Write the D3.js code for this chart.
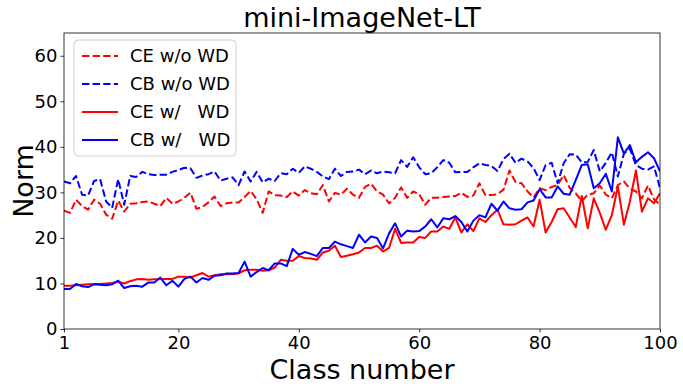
<!DOCTYPE html>
<html>
<head>
<meta charset="utf-8">
<script src="https://cdn.jsdelivr.net/npm/d3@7"></script>
<style>
  body { margin: 0; background: #fff; }
  svg { font-family: "DejaVu Sans", sans-serif; }
</style>
</head>
<body>
<svg id="chart" width="683" height="389"></svg>
<script>
// Norm per class (class 1..100)
const ceNoWd = [
  26.0, 25.5, 28.4, 27.0, 26.2, 28.4, 27.5, 25.1, 24.2, 28.2,
  25.8, 27.5, 27.6, 27.9, 28.0, 27.5, 27.0, 28.8, 27.5, 28.0,
  28.8, 29.9, 26.4, 26.8, 27.8, 29.1, 27.0, 27.6, 27.8, 27.8,
  29.0, 30.3, 28.5, 25.5, 30.2, 29.4, 29.3, 29.0, 30.2, 29.3,
  30.5, 29.8, 29.6, 31.6, 28.0, 29.9, 29.5, 30.8, 29.5, 28.8,
  31.2, 31.9, 30.2, 29.5, 27.6, 28.8, 31.1, 28.8, 30.2, 29.6,
  27.3, 28.8, 28.8, 29.0, 29.1, 29.2, 29.9, 29.0, 29.3, 32.0,
  29.4, 29.4, 29.6, 30.6, 34.8, 32.3, 32.0, 30.2, 28.9, 30.9,
  30.5, 31.2, 31.6, 33.8, 31.0, 29.8, 28.1, 29.5, 29.8, 31.5,
  29.5, 28.7, 31.6, 32.4, 30.8, 30.2, 28.7, 31.5, 28.5, 27.3
];
const cbNoWd = [
  32.4, 32.0, 33.6, 29.5, 29.3, 32.5, 32.9, 28.0, 26.6, 32.9,
  27.3, 33.6, 33.4, 34.5, 34.0, 33.8, 33.9, 33.9, 34.5, 34.9,
  35.4, 35.3, 33.2, 33.7, 34.0, 34.6, 32.6, 33.0, 33.3, 31.6,
  34.6, 32.4, 34.5, 32.2, 33.0, 32.5, 34.2, 34.0, 35.2, 34.3,
  35.7, 35.2, 34.5, 33.5, 32.9, 35.2, 33.6, 34.5, 34.6, 35.0,
  34.0, 34.8, 34.2, 34.6, 34.4, 34.2, 37.1, 35.6, 37.7, 35.5,
  34.0, 34.2, 35.5, 37.1, 36.5, 34.4, 34.5, 34.5, 35.5, 36.4,
  36.0, 35.8, 34.7, 37.3, 38.5, 36.5, 37.4, 36.8, 35.3, 32.7,
  36.0, 36.5, 32.0, 36.4, 38.4, 38.3, 36.6, 36.7, 39.3, 34.6,
  36.5, 38.8, 33.5, 38.5, 39.6, 36.0, 35.2, 35.0, 35.7, 30.9
];
const ceWd = [
   9.5,  9.5,  9.6,  9.7,  9.8,  9.9,  9.9, 10.0, 10.1, 10.4,
  10.0, 10.5, 10.9, 11.0, 10.8, 10.9, 11.0, 11.0, 11.0, 11.5,
  11.5, 11.3, 11.8, 12.3, 11.5, 11.8, 12.0, 12.0, 12.1, 12.2,
  12.9, 13.0, 13.0, 12.8, 12.9, 13.5, 15.2, 15.0, 15.0, 16.0,
  15.6, 15.5, 15.2, 16.8, 17.2, 18.3, 15.8, 16.1, 16.4, 16.8,
  17.8, 17.8, 18.3, 17.0, 17.8, 22.0, 18.9, 19.0, 19.0, 20.2,
  20.0, 21.4, 21.4, 22.5, 22.0, 24.5, 21.2, 23.0, 21.5, 24.3,
  23.5, 25.0, 26.2, 23.0, 22.9, 23.0, 23.8, 24.5, 22.5, 28.4,
  21.2, 23.5, 26.3, 26.5, 24.5, 22.4, 29.2, 22.1, 28.7, 25.5,
  21.8, 25.0, 31.3, 22.9, 28.0, 34.8, 25.8, 28.7, 27.6, 29.8
];
const cbWd = [
   8.8,  8.8,  9.9,  9.4,  9.2,  9.8,  9.7,  9.6,  9.8, 10.6,
   9.0,  9.4,  9.5,  9.3, 10.2, 10.2, 11.3,  9.6, 10.6,  9.3,
  11.0, 11.5, 10.2, 11.2, 10.8, 11.7, 11.8, 12.2, 12.2, 12.3,
  14.8, 11.5, 12.5, 13.4, 12.9, 14.4, 14.4, 13.8, 17.6, 16.3,
  16.9, 16.5, 16.0, 17.8, 17.8, 19.2, 18.6, 18.2, 17.8, 20.7,
  19.0, 20.3, 20.0, 17.7, 21.0, 23.2, 20.3, 21.6, 21.4, 21.5,
  22.5, 24.1, 22.3, 24.3, 24.1, 24.8, 23.5, 21.4, 23.8, 25.0,
  24.5, 27.5, 26.0, 28.0, 26.5, 26.2, 26.3, 27.8, 28.2, 30.7,
  28.9, 28.9, 31.3, 29.7, 29.5, 32.7, 36.0, 36.2, 30.9, 32.0,
  34.1, 30.2, 42.1, 38.5, 40.4, 36.6, 37.8, 38.8, 37.5, 34.6
];

const xTicks = [1, 20, 40, 60, 80, 100];
const yTicks = [0, 10, 20, 30, 40, 50, 60];

const series = [
  { name: "CE w/o WD", values: ceNoWd, color: "#ff0000", dashed: true },
  { name: "CB w/o WD", values: cbNoWd, color: "#0000ff", dashed: true },
  { name: "CE w/   WD", values: ceWd, color: "#ff0000", dashed: false },
  { name: "CB w/   WD", values: cbWd, color: "#0000ff", dashed: false }
];

const svg = d3.select("#chart");
const margin = { left: 64, right: 23, top: 33, bottom: 60 };
const W = 683, H = 389;

const x = d3.scaleLinear().domain([1, 100]).range([margin.left, W - margin.right]);
const y = d3.scaleLinear().domain([0, 65]).range([H - margin.bottom, margin.top]);

// lines
const line = d3.line()
  .x((d, i) => x(i + 1))
  .y(d => y(d));

const plot = svg.append("g");
plot.append("clipPath").attr("id", "clip")
  .append("rect")
  .attr("x", margin.left).attr("y", margin.top)
  .attr("width", x.range()[1] - x.range()[0])
  .attr("height", y.range()[0] - y.range()[1]);

plot.selectAll(".series")
  .data(series)
  .join("path")
  .attr("class", "series")
  .attr("clip-path", "url(#clip)")
  .attr("fill", "none")
  .attr("stroke", d => d.color)
  .attr("stroke-width", 2)
  .attr("stroke-linejoin", "round")
  .attr("stroke-dasharray", d => d.dashed ? "7.4,3.2" : null)
  .attr("d", d => line(d.values));

// axes
const xAxis = svg.append("g")
  .attr("transform", `translate(0,${y(0)})`)
  .call(d3.axisBottom(x).tickValues(xTicks).tickSize(3.5).tickSizeOuter(0));
const yAxis = svg.append("g")
  .attr("transform", `translate(${margin.left},0)`)
  .call(d3.axisLeft(y).tickValues(yTicks).tickSize(3.5).tickSizeOuter(0));

[xAxis, yAxis].forEach(a => {
  a.select(".domain").remove();
  a.selectAll("line").attr("stroke", "#000").attr("stroke-width", 0.8);
  a.selectAll("text").attr("font-size", 18).attr("fill", "#000")
    .attr("font-family", "DejaVu Sans, sans-serif");
});
xAxis.selectAll("text").attr("dy", "0.85em").attr("y", 5);
yAxis.selectAll("text").attr("x", -6.5);

// frame
svg.append("rect")
  .attr("x", margin.left).attr("y", margin.top)
  .attr("width", x.range()[1] - x.range()[0])
  .attr("height", y.range()[0] - y.range()[1])
  .attr("fill", "none")
  .attr("stroke", "#000")
  .attr("stroke-width", 0.8);

// title and labels
svg.append("text")
  .attr("x", (x.range()[0] + x.range()[1]) / 2)
  .attr("y", 27)
  .attr("text-anchor", "middle")
  .attr("font-size", 27)
  .text("mini-ImageNet-LT");

svg.append("text")
  .attr("x", (x.range()[0] + x.range()[1]) / 2)
  .attr("y", 379)
  .attr("text-anchor", "middle")
  .attr("font-size", 27)
  .text("Class number");

svg.append("text")
  .attr("transform", `translate(33,${(y.range()[0] + y.range()[1]) / 2}) rotate(-90)`)
  .attr("text-anchor", "middle")
  .attr("font-size", 27)
  .text("Norm");

// legend
const legend = svg.append("g").attr("transform", "translate(74,40)");
legend.append("rect")
  .attr("width", 162).attr("height", 116)
  .attr("rx", 4)
  .attr("fill", "#fff").attr("fill-opacity", 0.8)
  .attr("stroke", "#d0d0d0");

const item = legend.selectAll(".item")
  .data(series)
  .join("g")
  .attr("class", "item")
  .attr("transform", (d, i) => `translate(0,${16 + i * 28})`);

item.append("line")
  .attr("x1", 8).attr("x2", 44)
  .attr("stroke", d => d.color)
  .attr("stroke-width", 2)
  .attr("stroke-dasharray", d => d.dashed ? "7.4,3.2" : null);

item.append("text")
  .attr("x", 56)
  .attr("dy", "0.35em")
  .attr("font-size", 18)
  .style("white-space", "pre")
  .text(d => d.name);
</script>
</body>
</html>
